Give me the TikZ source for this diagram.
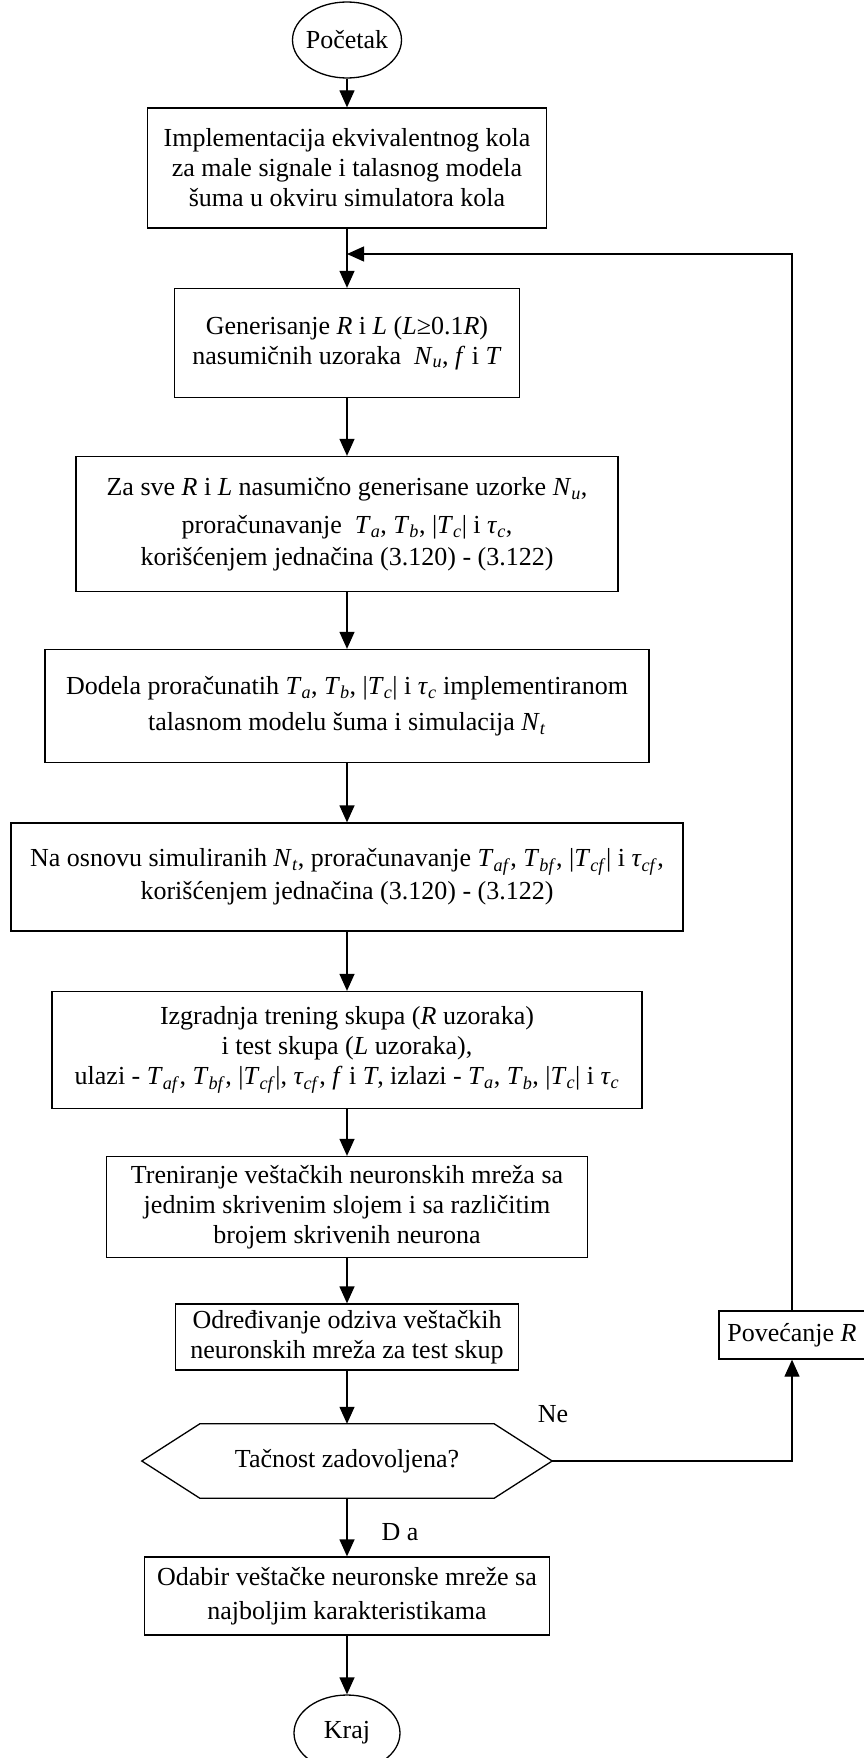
\documentclass[tikz,border=0pt]{standalone}
\usepackage{fontspec}
\setmainfont{Liberation Serif}
\usetikzlibrary{positioning,arrows.meta,shapes.geometric}
\newcommand{\ix}[2]{\textit{#1}\textsubscript{\textit{#2}}}
\tikzset{
  blok/.style={draw,line width=1.3pt,align=center,inner sep=2pt,
    font=\fontsize{26}{30}\selectfont},
  krug/.style={blok,ellipse,inner xsep=-4pt,inner ysep=0pt},
  tok/.style={line width=1.3pt,-{Triangle[length=17pt,width=15pt]}},
  oznaka/.style={font=\fontsize{26}{30}\selectfont}
}

\begin{document}
\begin{tikzpicture}[x=1pt,y=-1pt]
        \useasboundingbox (0,0) rectangle (864,1758);

        \node[krug,minimum width=109pt,minimum height=76pt]
          (pocetak) at (347,40) {Početak};
        \node[blok,minimum width=399pt,minimum height=120pt]
          (impl) at (347,168)
          {Implementacija ekvivalentnog kola\\za male signale i talasnog modela\\šuma u okviru simulatora kola};
        \node[blok,minimum width=345pt,minimum height=109pt]
          (gen) at (347,343)
          {Generisanje \textit{R} i \textit{L} (\textit{L}≥0.1\textit{R})\\
           nasumičnih uzoraka\ \ \ix{N}{u}, \textit{f} i \textit{T}};
        \node[blok,minimum width=542pt,minimum height=135pt]
          (proracun) at (347,524)
          {Za sve \textit{R} i \textit{L} nasumično generisane uzorke \ix{N}{u},\\[8pt]
           proračunavanje\ \ \ix{T}{a}, \ix{T}{b}, |\ix{T}{c}| i \ix{τ}{c},\\[2pt]
           korišćenjem jednačina (3.120) - (3.122)};
        \node[blok,minimum width=604pt,minimum height=113pt]
          (dodela) at (347,706)
          {Dodela proračunatih \ix{T}{a}, \ix{T}{b}, |\ix{T}{c}| i \ix{τ}{c} implementiranom\\[6pt]
           talasnom modelu šuma i simulacija \ix{N}{t}};
        \node[blok,minimum width=672pt,minimum height=108pt]
          (osnova) at (347,877)
          {Na osnovu simuliranih \ix{N}{t}, proračunavanje \ix{T}{af}, \ix{T}{bf}, |\ix{T}{cf}| i \ix{τ}{cf},\\[3pt]
           korišćenjem jednačina (3.120) - (3.122)};
        \node[blok,minimum width=590pt,minimum height=117pt]
          (izgradnja) at (347,1050)
          {Izgradnja trening skupa (\textit{R} uzoraka)\\
           i test skupa (\textit{L} uzoraka),\\
           ulazi - \ix{T}{af}, \ix{T}{bf}, |\ix{T}{cf}|, \ix{τ}{cf}, \textit{f} i \textit{T}, izlazi - \ix{T}{a}, \ix{T}{b}, |\ix{T}{c}| i \ix{τ}{c}};
        \node[blok,minimum width=481pt,minimum height=101pt]
          (treniranje) at (347,1207)
          {Treniranje veštačkih neuronskih mreža sa\\
           jednim skrivenim slojem i sa različitim\\
           brojem skrivenih neurona};
        \node[blok,minimum width=343pt,minimum height=66pt]
          (odziv) at (347,1337)
          {Određivanje odziva veštačkih\\neuronskih mreža za test skup};
        \node[blok,minimum width=146pt,minimum height=48pt]
          (povecanje) at (792,1335) {Povećanje \textit{R}};

        % odluka
        \node[oznaka,minimum width=410pt,minimum height=74pt,inner sep=0pt]
          (tacnost) at (347,1461) {Tačnost zadovoljena?};
        \draw[line width=1.3pt] (tacnost.west)
          -- ([xshift=58pt]tacnost.north west) -- ([xshift=-58pt]tacnost.north east)
          -- (tacnost.east)
          -- ([xshift=-58pt]tacnost.south east) -- ([xshift=58pt]tacnost.south west)
          -- cycle;
        \node[oznaka] (ne) at (553,1414) {Ne};
        \node[oznaka] (da) at (400,1532) {D a};

        \node[blok,minimum width=405pt,minimum height=78pt]
          (odabir) at (347,1596)
          {Odabir veštačke neuronske mreže sa\\[4pt]najboljim karakteristikama};
        \node[krug,minimum width=106pt,minimum height=76pt]
          (kraj) at (347,1733) {Kraj};

        \foreach \a/\b in {pocetak/impl,impl/gen,gen/proracun,proracun/dodela,
            dodela/osnova,osnova/izgradnja,izgradnja/treniranje,
            treniranje/odziv,odziv/tacnost,tacnost/odabir,odabir/kraj}
          \draw[tok] (\a) -- (\b);

        % povratna grana
        \coordinate (spoj) at (347,254);
        \draw[tok] (tacnost.east) -| (povecanje.south);
        \draw[tok] (povecanje.north) |- (spoj);
      \end{tikzpicture}
\end{document}
